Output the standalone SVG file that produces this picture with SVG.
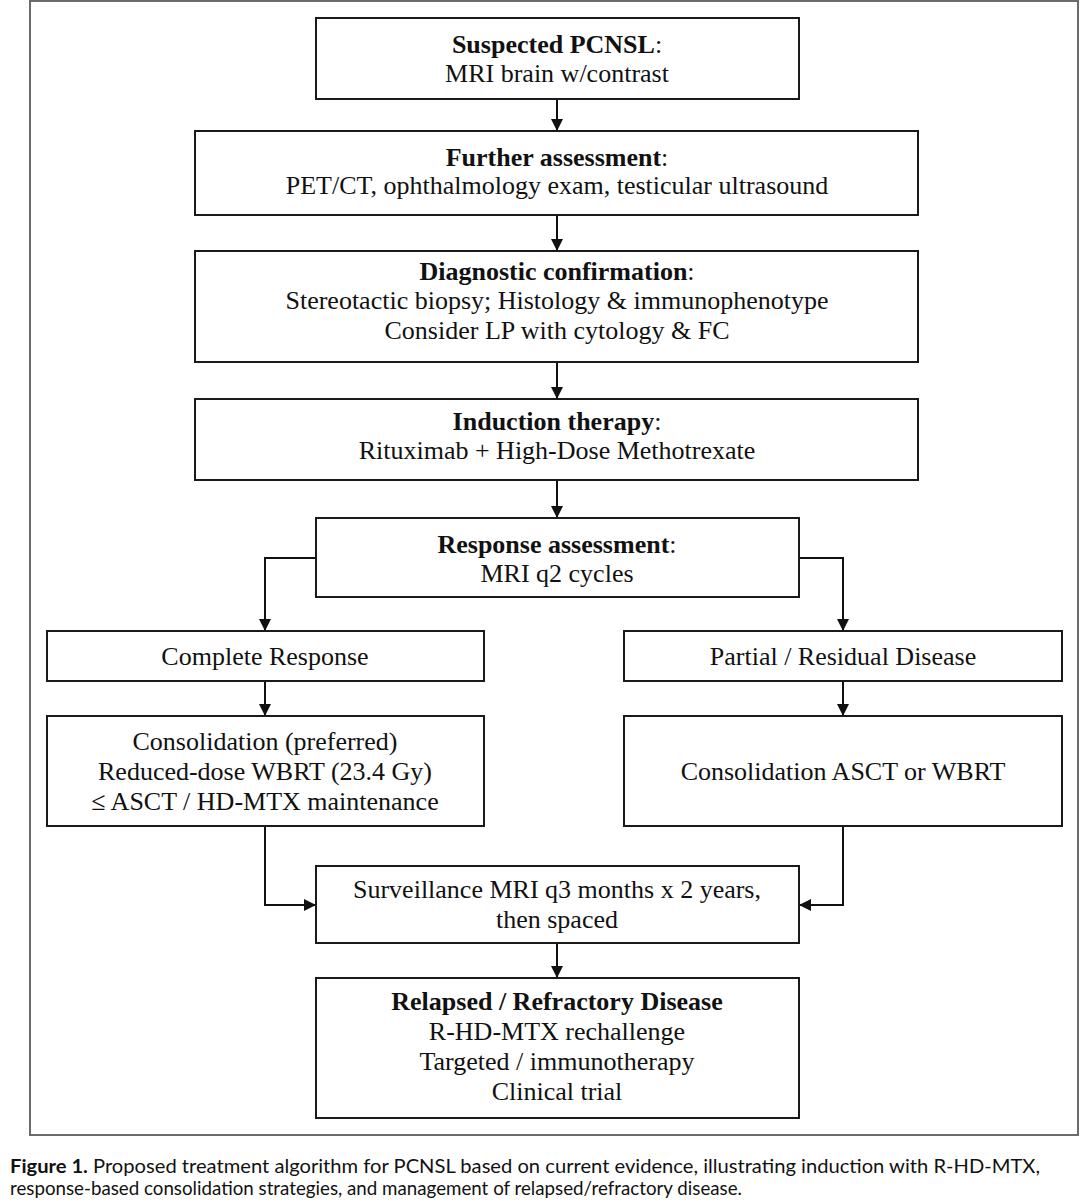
<svg xmlns="http://www.w3.org/2000/svg" width="1080" height="1203" viewBox="0 0 1080 1203">
<style>
.box{fill:#fff;stroke:#1a1a1a;stroke-width:2}
.frame{fill:none;stroke:#6b6b6b;stroke-width:2}
.t{font-family:"Liberation Serif","Times New Roman",serif;font-size:26px;fill:#111;text-anchor:middle}
.b{font-weight:bold}
.conn{fill:none;stroke:#111;stroke-width:2}
.cap{font-family:Lato,"Open Sans","Liberation Sans",sans-serif;font-size:19px;fill:#111}
</style>
<defs>
<marker id="ah" viewBox="0 0 12 12" refX="12" refY="6" markerWidth="12" markerHeight="12" markerUnits="userSpaceOnUse" orient="auto">
<path d="M0,0 L12,6 L0,12 Z" fill="#111"/>
</marker>
</defs>
<rect width="1080" height="1203" fill="#fff"/>
<rect class="frame" x="30" y="1" width="1048" height="1134"/>

<g id="connectors">
<path class="conn" d="M557,99 V131" marker-end="url(#ah)"/>
<path class="conn" d="M557,215 V251" marker-end="url(#ah)"/>
<path class="conn" d="M557,362 V399" marker-end="url(#ah)"/>
<path class="conn" d="M557,480 V518" marker-end="url(#ah)"/>
<path class="conn" d="M316,558 H265 V631" marker-end="url(#ah)"/>
<path class="conn" d="M799,558 H843 V631" marker-end="url(#ah)"/>
<path class="conn" d="M265,681 V716" marker-end="url(#ah)"/>
<path class="conn" d="M843,681 V716" marker-end="url(#ah)"/>
<path class="conn" d="M265,826 V905 H316" marker-end="url(#ah)"/>
<path class="conn" d="M843,826 V905 H799" marker-end="url(#ah)"/>
<path class="conn" d="M557,943 V978" marker-end="url(#ah)"/>
</g>

<g id="suspected">
<rect class="box" x="316" y="18" width="483" height="81"/>
<text class="t" x="557" y="53"><tspan class="b">Suspected PCNSL</tspan>:</text>
<text class="t" x="557" y="82">MRI brain w/contrast</text>
</g>

<g id="further">
<rect class="box" x="195" y="131" width="723" height="84"/>
<text class="t" x="557" y="166"><tspan class="b">Further assessment</tspan>:</text>
<text class="t" x="557" y="194">PET/CT, ophthalmology exam, testicular ultrasound</text>
</g>

<g id="diagnostic">
<rect class="box" x="195" y="251" width="723" height="111"/>
<text class="t" x="557" y="280"><tspan class="b">Diagnostic confirmation</tspan>:</text>
<text class="t" x="557" y="309">Stereotactic biopsy; Histology &amp; immunophenotype</text>
<text class="t" x="557" y="339">Consider LP with cytology &amp; FC</text>
</g>

<g id="induction">
<rect class="box" x="195" y="399" width="723" height="81"/>
<text class="t" x="557" y="430"><tspan class="b">Induction therapy</tspan>:</text>
<text class="t" x="557" y="459">Rituximab + High-Dose Methotrexate</text>
</g>

<g id="response">
<rect class="box" x="316" y="518" width="483" height="79"/>
<text class="t" x="557" y="553"><tspan class="b">Response assessment</tspan>:</text>
<text class="t" x="557" y="582">MRI q2 cycles</text>
</g>

<g id="complete">
<rect class="box" x="47" y="631" width="437" height="50"/>
<text class="t" x="265" y="665">Complete Response</text>
</g>

<g id="partial">
<rect class="box" x="624" y="631" width="438" height="50"/>
<text class="t" x="843" y="665">Partial / Residual Disease</text>
</g>

<g id="consolidation-left">
<rect class="box" x="47" y="716" width="437" height="110"/>
<text class="t" x="265" y="750">Consolidation (preferred)</text>
<text class="t" x="265" y="780">Reduced-dose WBRT (23.4 Gy)</text>
<text class="t" x="265" y="810">≤ ASCT / HD-MTX maintenance</text>
</g>

<g id="consolidation-right">
<rect class="box" x="624" y="716" width="438" height="110"/>
<text class="t" x="843" y="780">Consolidation ASCT or WBRT</text>
</g>

<g id="surveillance">
<rect class="box" x="316" y="866" width="483" height="77"/>
<text class="t" x="557" y="898">Surveillance MRI q3 months x 2 years,</text>
<text class="t" x="557" y="928">then spaced</text>
</g>

<g id="relapsed">
<rect class="box" x="316" y="978" width="483" height="140"/>
<text class="t" x="557" y="1010"><tspan class="b">Relapsed / Refractory Disease</tspan></text>
<text class="t" x="557" y="1040">R-HD-MTX rechallenge</text>
<text class="t" x="557" y="1070">Targeted / immunotherapy</text>
<text class="t" x="557" y="1100">Clinical trial</text>
</g>

<g id="caption">
<text class="cap" x="10" y="1173" textLength="1030" lengthAdjust="spacingAndGlyphs"><tspan font-weight="bold">Figure 1.</tspan> Proposed treatment algorithm for PCNSL based on current evidence, illustrating induction with R-HD-MTX,</text>
<text class="cap" x="10" y="1195" textLength="732" lengthAdjust="spacingAndGlyphs">response-based consolidation strategies, and management of relapsed/refractory disease.</text>
</g>
</svg>
